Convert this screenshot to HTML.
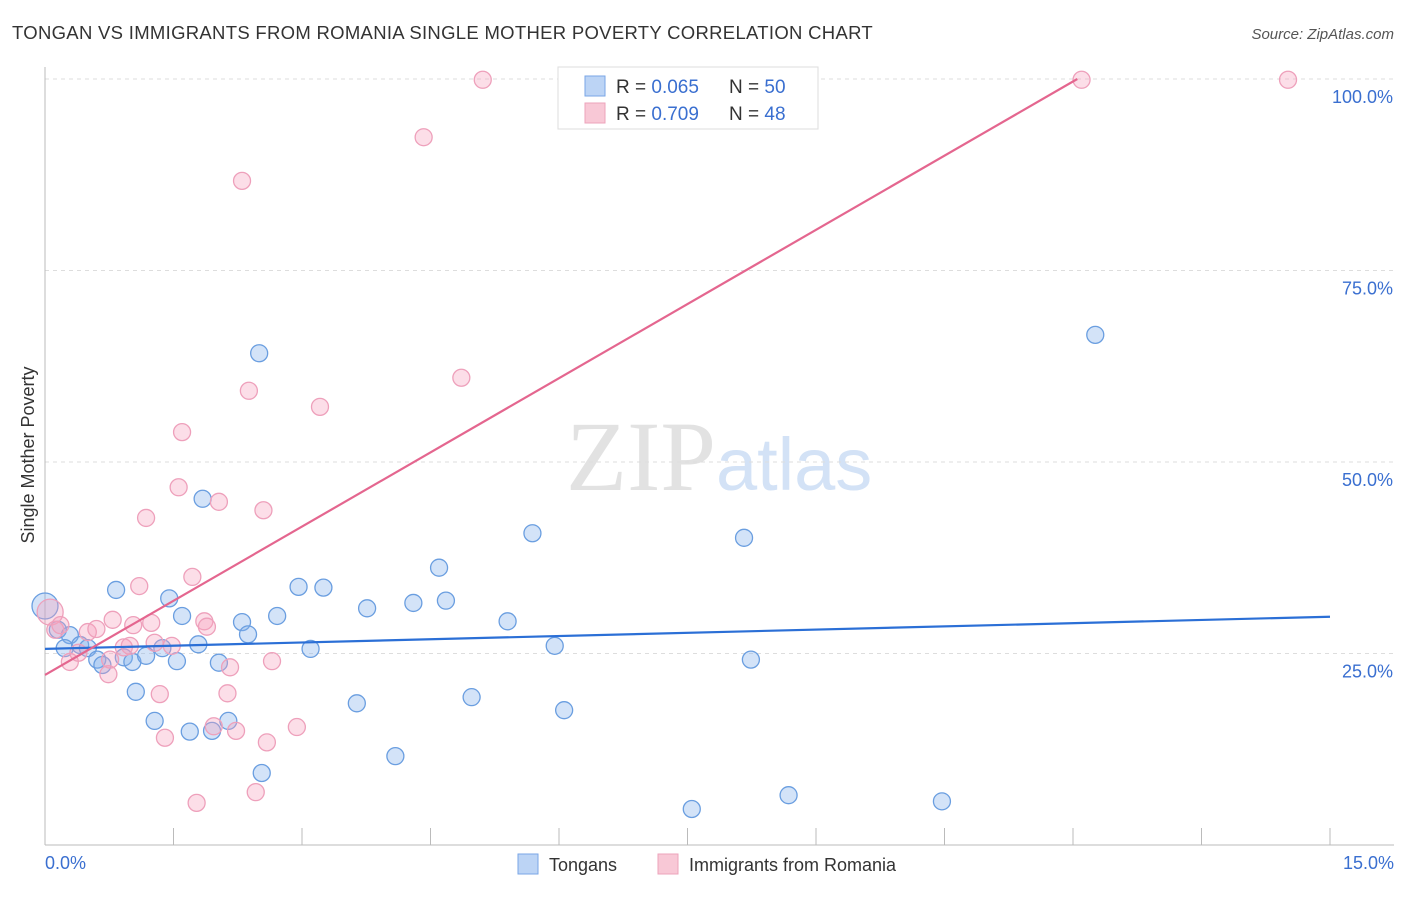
<!DOCTYPE html>
<html><head><meta charset="utf-8"><style>
body{margin:0;background:#fff;font-family:"Liberation Sans",sans-serif}
</style></head><body>
<svg width="1406" height="892" xmlns="http://www.w3.org/2000/svg" font-family="Liberation Sans, sans-serif">
<text x="12" y="39" font-size="18.5" letter-spacing="0.3" fill="#333">TONGAN VS IMMIGRANTS FROM ROMANIA SINGLE MOTHER POVERTY CORRELATION CHART</text>
<text x="1394" y="39" font-size="15" fill="#555" text-anchor="end" font-style="italic">Source: ZipAtlas.com</text>
<text x="716" y="490" font-size="100" fill="#e2e2e2" text-anchor="end" font-family="Liberation Serif, serif">ZIP</text>
<text x="716" y="490" font-size="74" fill="#d3e2f6">atlas</text>
<g id="grid"></g>
<g id="axes"></g>
<g id="pts"></g>
<g id="lines"></g>
<text transform="translate(34,455) rotate(-90)" font-size="18" fill="#333" text-anchor="middle">Single Mother Poverty</text>
<text x="45" y="869" font-size="18" fill="#3a6fd0">0.0%</text>
<text x="1394" y="869" font-size="18" fill="#3a6fd0" text-anchor="end">15.0%</text>
<g>
<rect x="558" y="67" width="260" height="62" fill="#fff" stroke="#ddd"/>
<rect x="585" y="76" width="20" height="20" fill="#bcd4f5" stroke="#7aa6e6"/>
<rect x="585" y="103" width="20" height="20" fill="#f8c8d6" stroke="#eda3bb"/>
<text x="616" y="93" font-size="19" fill="#333">R = <tspan fill="#3a6fd0">0.065</tspan></text>
<text x="729" y="93" font-size="19" fill="#333">N = <tspan fill="#3a6fd0">50</tspan></text>
<text x="616" y="120" font-size="19" fill="#333">R = <tspan fill="#3a6fd0">0.709</tspan></text>
<text x="729" y="120" font-size="19" fill="#333">N = <tspan fill="#3a6fd0">48</tspan></text>
</g>
<g>
<rect x="518" y="854" width="20" height="20" fill="#bcd4f5" stroke="#7aa6e6"/>
<text x="549" y="871" font-size="18" fill="#333">Tongans</text>
<rect x="658" y="854" width="20" height="20" fill="#f8c8d6" stroke="#eda3bb"/>
<text x="689" y="871" font-size="18" fill="#333">Immigrants from Romania</text>
</g>
</svg>
<script>
const yTicks=[25,50,75,100];
const yTickLabels=["25.0%","50.0%","75.0%","100.0%"];
const xTicks=[0,1.5,3,4.5,6,7.5,9,10.5,12,13.5,15];
const blueX=[0,0.15,0.29,0.23,0.41,0.5,0.61,0.67,0.83,0.92,1.02,1.06,1.18,1.28,1.37,1.45,1.54,1.6,1.69,1.79,1.84,1.95,2.03,2.14,2.3,2.37,2.5,2.53,2.71,2.96,3.1,3.25,3.64,3.76,4.09,4.3,4.6,4.68,4.98,5.4,5.69,5.95,6.06,7.55,8.16,8.24,8.68,10.47,12.26];
const blueY=[31.2,28.1,27.4,25.7,26.1,25.7,24.2,23.5,33.3,24.5,23.9,20.0,24.7,16.2,25.7,32.2,24.0,29.9,14.8,26.2,45.2,14.9,23.8,16.2,29.1,27.5,64.2,9.4,29.9,33.7,25.6,33.6,18.5,30.9,11.6,31.6,36.2,31.9,19.3,29.2,40.7,26.0,17.6,4.7,40.1,24.2,6.5,5.7,66.6];
const pinkX=[0.06,0.12,0.18,0.29,0.39,0.5,0.6,0.74,0.76,0.79,0.92,0.99,1.03,1.1,1.18,1.24,1.28,1.34,1.4,1.48,1.56,1.6,1.72,1.77,1.86,1.89,1.97,2.03,2.13,2.16,2.23,2.3,2.38,2.46,2.55,2.59,2.65,2.94,3.21,4.42,4.86,5.11,12.1,14.51];
const pinkY=[30.4,28.1,28.7,23.9,25.1,27.8,28.2,22.3,24.2,29.4,25.8,26.0,28.7,33.8,42.7,29.0,26.4,19.7,14.0,26.0,46.7,53.9,35.0,5.5,29.2,28.5,15.5,44.8,19.8,23.2,14.9,86.7,59.3,6.9,43.7,13.4,24.0,15.4,57.2,92.4,61.0,99.9,99.9,99.9];
const blueLine=[[0,25.6],[15,29.8]];
const pinkLine=[[0,22.2],[12.05,100]];
const NS="http://www.w3.org/2000/svg";
const sx=v=>45+v/15*1285, sy=v=>845-v/100*766;
function mk(p,t,a){const e=document.createElementNS(NS,t);for(const k in a)e.setAttribute(k,a[k]);document.getElementById(p).appendChild(e);return e;}
yTicks.forEach((t,i)=>{
 const g=mk('grid','line',{x1:45,x2:1394,y1:sy(t),y2:sy(t),stroke:'#ddd','stroke-dasharray':'4,4'});
 
 
 const l=mk('axes','text',{x:1393,y:sy(t)+24,'font-size':18,fill:'#3a6fd0','text-anchor':'end'});
 l.textContent=yTickLabels[i];
 
 
});
mk('axes','line',{x1:45,x2:45,y1:67,y2:845,stroke:'#bbb'});
mk('axes','line',{x1:45,x2:1394,y1:845,y2:845,stroke:'#bbb'});
xTicks.forEach(t=>{
 const e=mk('axes','line',{x1:sx(t),x2:sx(t),y1:828,y2:845,stroke:'#bbb'});
 
 
});
function pts(X,Y,f,s,name){X.forEach((x,i)=>{
 const c=mk('pts','circle',{cx:sx(x),cy:sy(Y[i]),r:i===0?13:8.5,fill:f,stroke:s,'stroke-width':1.3});
 
 
});}
pts(blueX,blueY,'rgba(130,175,235,0.35)','#6a9ee0','tongan-point');
pts(pinkX,pinkY,'rgba(245,160,190,0.35)','#eea0bb','romania-point');
function ln(L,c,name){const e=mk('lines','line',{x1:sx(L[0][0]),y1:sy(L[0][1]),x2:sx(L[1][0]),y2:sy(L[1][1]),stroke:c,'stroke-width':2.2});
 
 }
ln(blueLine,'#2b6fd6','tongan-trend-line');
ln(pinkLine,'#e4668f','romania-trend-line');
</script>
</body></html>
